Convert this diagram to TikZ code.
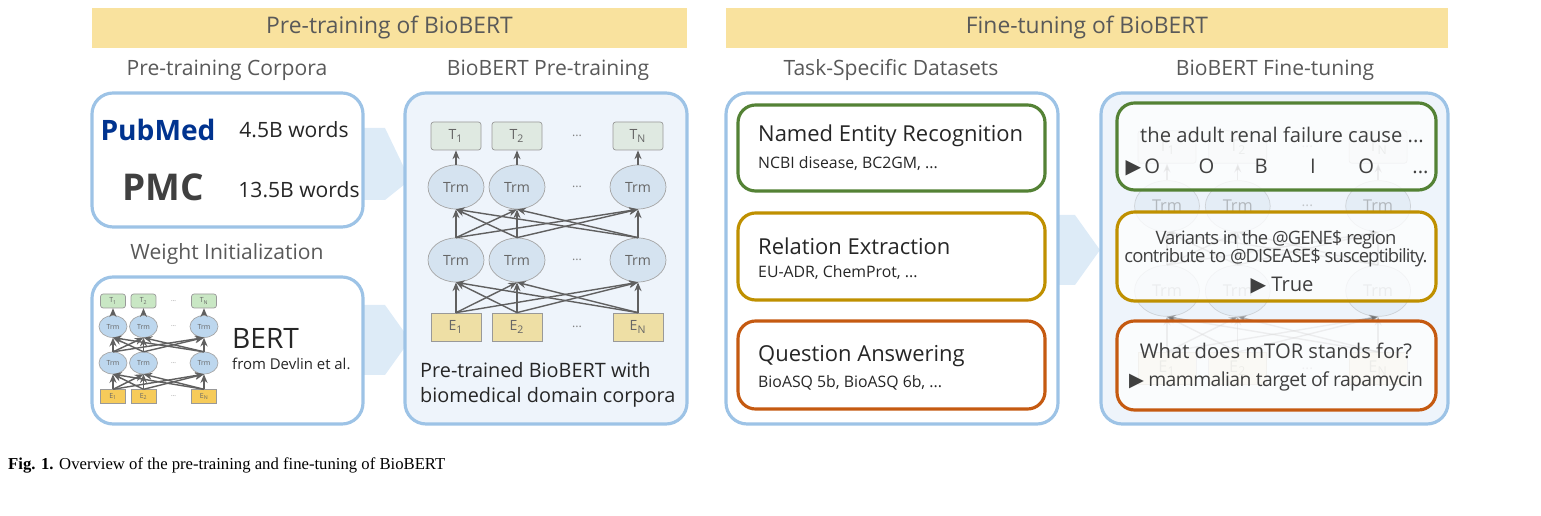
\documentclass[tikz,border=0pt]{standalone}
\usepackage{fontspec}
\setmainfont{Open Sans}
\newfontfamily\capfont{Liberation Serif}
\newfontfamily\symfont{DejaVu Sans}
\usetikzlibrary{shapes.geometric,arrows.meta}
\definecolor{hdr}{HTML}{F9E29E}
\definecolor{hdrtxt}{HTML}{595959}
\definecolor{bline}{HTML}{9DC3E6}
\definecolor{bfill}{HTML}{EEF4FB}
\definecolor{chev}{HTML}{DDEBF7}
\definecolor{cgreen}{HTML}{548235}
\definecolor{cgold}{HTML}{BF9000}
\definecolor{cred}{HTML}{C55A11}
\definecolor{txt}{HTML}{262626}
\definecolor{ntxt}{HTML}{404040}
\tikzset{
  hbar/.style={fill=hdr,draw=none,minimum height=0.8cm,text=hdrtxt,font=\fontsize{13}{15}\selectfont},
  sub/.style={text=hdrtxt,font=\fontsize{12}{14}\selectfont},
  panel/.style={draw=bline,line width=1.8pt,rounded corners=12pt},
  inbox/.style={line width=1.8pt,rounded corners=10pt,fill=white},
  tbox/.style={draw=gray!80,fill=tcol,rounded corners=1.5pt,minimum width=1cm,minimum height=0.56cm,inner sep=0pt,font=\fontsize{8}{9}\selectfont,text=gray!80!black},
  ebox/.style={draw=gray!80,fill=ecol,minimum width=1cm,minimum height=0.56cm,inner sep=0pt,font=\fontsize{8}{9}\selectfont,text=gray!80!black},
  trm/.style={ellipse,draw=gray!70,fill=rcol,minimum width=1.12cm,minimum height=0.88cm,inner sep=0pt,font=\fontsize{8}{9}\selectfont,text=gray!80!black},
  dots/.style={text=gray,font=\fontsize{7}{8}\selectfont},
  arr/.style={-{Stealth[length=5pt,width=4pt]},draw=gray!75!black,line width=0.8pt},
}
\definecolor{tcol}{HTML}{DFE9E1}
\definecolor{ecol}{HTML}{EEDFA5}
\definecolor{rcol}{HTML}{D5E3F0}
\tikzset{net/.pic={
  \foreach \i/\x/\l in {1/0/1,2/61/2,3/182/N}{
    \node[tbox] (-t\i) at (\x,0) {T\textsubscript{\l}};
    \node[trm] (-a\i) at (\x,51) {Trm};
    \node[trm] (-b\i) at (\x,124) {Trm};
    \node[ebox] (-e\i) at (\x,191) {E\textsubscript{\l}};
  }
  \foreach \y in {0,51,124,191} \node[dots] (-d\y) at (121,\y) {...};
  \foreach \i in {1,2,3}{
    \draw[arr] (-a\i.north) -- (-t\i.south);
    \foreach \j in {1,2,3}{
      \draw[arr] (-e\i.north) -- (-b\j.south);
      \draw[arr] (-b\i.north) -- (-a\j.south);
    }
  }
}}
\begin{document}
\begin{tikzpicture}[x=0.02cm,y=-0.02cm]
\useasboundingbox (0,0) rectangle (1541,516);
% headers
\node[hbar,minimum width=11.9cm] (h1) at (389.5,28) {Pre-training of BioBERT};
\node[hbar,minimum width=14.44cm] (h2) at (1087,28) {Fine-tuning of BioBERT};
\node[sub] (s1) at (227,70) {Pre-training Corpora};
\node[sub] (s2) at (548,70) {BioBERT Pre-training};
\node[sub] (s3) at (891,70) {Task-Specific Datasets};
\node[sub] (s4) at (1275,70) {BioBERT Fine-tuning};
\node[sub] (s5) at (227,254) {Weight Initialization};
% chevrons
\fill[chev] (363,128) -- (385,128) -- (410,180) -- (385,200) -- (363,200) -- cycle;
\fill[chev] (363,305) -- (385,305) -- (410,340) -- (385,375) -- (363,375) -- cycle;
\fill[chev] (1058,215) -- (1075,215) -- (1100,250) -- (1075,285) -- (1058,285) -- cycle;
% corpora
\draw[panel,fill=white] (92,93) rectangle (363,227);
\node[font=\fontsize{16}{18}\bfseries\selectfont,text=blue!45!black!80!cyan] (pub) at (158,130) {PubMed};
\node[font=\fontsize{12}{14}\selectfont,text=txt] (w1) at (294,130) {4.5B words};
\node[font=\fontsize{21}{22}\bfseries\selectfont,text=ntxt] (pmc) at (163,187) {PMC};
\node[font=\fontsize{12}{14}\selectfont,text=txt] (w2) at (299,190) {13.5B words};
% BERT
\draw[panel,fill=white] (92,277) rectangle (363,424);
\begin{scope}
\definecolor{tcol}{HTML}{C9E7C4}
\definecolor{ecol}{HTML}{F6CB5A}
\definecolor{rcol}{HTML}{BDD7EE}
\pic[scale=0.5,transform shape] (sm) at (113,301) {net};
\end{scope}
\node[font=\fontsize{16}{18}\selectfont,text=txt,anchor=west] (bert) at (226,338) {BERT};
\node[font=\fontsize{8.5}{10}\selectfont,text=txt,anchor=west] (dev) at (226,364) {from Devlin et al.};
% pretraining
\draw[panel,fill=bfill] (405,93) rectangle (687,424);
\pic (pt) at (456,136) {net};
\node[font=\fontsize{11.3}{14}\selectfont,text=txt,align=left,anchor=west] (ptxt) at (414,385) {Pre-trained BioBERT with\\biomedical domain corpora};
% tasks
\draw[panel,fill=white] (726,93) rectangle (1058,424);
\draw[inbox,draw=cgreen] (738,105) rectangle (1045,191);
\draw[inbox,draw=cgold] (738,213) rectangle (1045,300);
\draw[inbox,draw=cred] (738,321) rectangle (1045,409);
\node[anchor=west,font=\fontsize{12.5}{14}\selectfont,text=txt] (ner) at (752,136) {Named Entity Recognition};
\node[anchor=west,font=\fontsize{9}{11}\selectfont,text=txt] (ner2) at (752,164) {NCBI disease, BC2GM, ...};
\node[anchor=west,font=\fontsize{12.5}{14}\selectfont,text=txt] (re) at (752,246) {Relation Extraction};
\node[anchor=west,font=\fontsize{9}{11}\selectfont,text=txt] (re2) at (752,273) {EU-ADR, ChemProt, ...};
\node[anchor=west,font=\fontsize{12.5}{14}\selectfont,text=txt] (qa) at (752,356) {Question Answering};
\node[anchor=west,font=\fontsize{9}{11}\selectfont,text=txt] (qa2) at (752,383) {BioASQ 5b, BioASQ 6b, ...};
% finetuning
\draw[panel,fill=bfill] (1101,93) rectangle (1448,424);
\begin{scope}[opacity=0.4]
\pic[scale=1.16,transform shape] (ft) at (1167,147) {net};
\end{scope}
\tikzset{fbox/.style={line width=1.8pt,rounded corners=10pt,fill=white,fill opacity=0.75}}
\draw[fbox,draw=cgreen] (1117,103) rectangle (1436,190);
\draw[fbox,draw=cgold] (1117,212) rectangle (1436,301);
\draw[fbox,draw=cred] (1117,321) rectangle (1436,410);
\tikzset{ft/.style={font=\fontsize{11.5}{13}\selectfont,text=ntxt}}
\node[ft] (f1) at (1282,135) {the adult renal failure cause ...};
\node[ft] (f2) at (1277,167) {{\symfont ▶}\,O\hspace{1.9em}O\hspace{2.0em}B\hspace{2.1em}I\hspace{2.1em}O\hspace{1.9em}...};
\node[ft,font=\fontsize{10.5}{13}\selectfont\addfontfeature{LetterSpace=-5}] (f3) at (1276,240) {Variants in the @GENE\$ region};
\node[ft,font=\fontsize{10.5}{13}\selectfont\addfontfeature{LetterSpace=-5}] (f4) at (1276,258) {contribute to @DISEASE\$ susceptibility.};
\node[ft] (f5) at (1282,286) {{\symfont ▶} True};
\node[ft,font=\fontsize{11.5}{14}\selectfont] (f6) at (1276,351) {What does mTOR stands for?};
\node[ft,font=\fontsize{11}{13}\selectfont\addfontfeature{LetterSpace=-3}] (f7) at (1276,381) {{\symfont ▶} mammalian target of rapamycin};
% caption
\node[anchor=west,font=\capfont\fontsize{9.5}{11}\selectfont] (cap) at (2,465) {\textbf{Fig. 1.} Overview of the pre-training and fine-tuning of BioBERT};
\end{tikzpicture}
\end{document}
